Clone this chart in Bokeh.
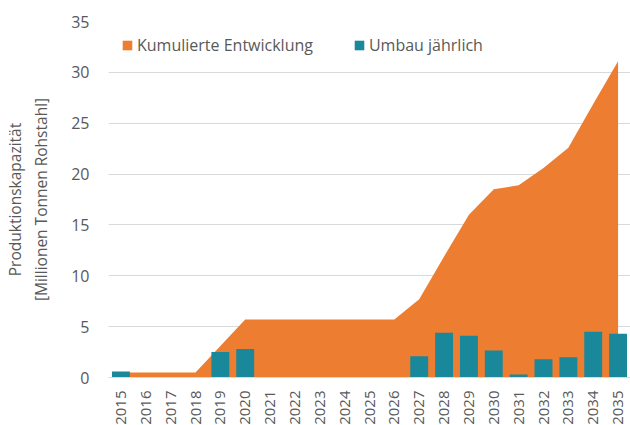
import math
from bokeh.plotting import figure
from bokeh.models import ColumnDataSource, FactorRange, Range1d, Legend, LegendItem, SingleIntervalTicker
from bokeh.embed import file_html
from bokeh.resources import INLINE

years = [str(y) for y in range(2015, 2036)]
kumuliert = [0.5, 0.5, 0.5, 0.5, 3.1, 5.7, 5.7, 5.7, 5.7, 5.7, 5.7, 5.7,
             7.7, 11.9, 16.0, 18.5, 18.9, 20.6, 22.6, 26.9, 31.1]
umbau = [0.6, 0, 0, 0, 2.5, 2.8, 0, 0, 0, 0, 0, 0,
         2.1, 4.4, 4.1, 2.65, 0.3, 1.8, 2.0, 4.5, 4.3]

ORANGE = "#ED7D31"
TEAL = "#18889A"
GREY = "#595959"
FONT = "Open Sans"

src = ColumnDataSource(dict(x=years, cum=kumuliert, umbau=umbau, zero=[0] * len(years)))

p = figure(x_range=FactorRange(*years, range_padding=0), y_range=Range1d(0, 35),
           width=630, height=425, output_backend="svg", toolbar_location=None,
           min_border_left=108, min_border_right=0, min_border_top=21, min_border_bottom=48)
p.frame_width = 522
p.frame_height = 356
p.outline_line_color = None
p.background_fill_color = "white"

a = p.varea(x="x", y1="zero", y2="cum", source=src, fill_color=ORANGE)
b = p.vbar(x="x", top="umbau", width=0.72, source=src, fill_color=TEAL, line_color=None)

p.xgrid.grid_line_color = None
p.ygrid.grid_line_color = "#D9D9D9"
p.ygrid.grid_line_width = 1

p.yaxis.ticker = SingleIntervalTicker(interval=5)
for ax in (p.xaxis[0], p.yaxis[0]):
    ax.major_tick_line_color = None
    ax.minor_tick_line_color = None
    ax.major_label_text_color = GREY
    ax.major_label_text_font = FONT
    ax.axis_label_text_font = FONT
    ax.axis_label_text_color = GREY
    ax.axis_label_text_font_style = "normal"
    ax.axis_label_text_font_size = "15.5px"

p.yaxis.major_label_text_font_size = "16px"
p.xaxis.major_label_text_font_size = "15px"

p.yaxis.axis_line_color = None
p.yaxis.major_label_standoff = 13
p.yaxis.axis_label = "Produktionskapazität\n[Millionen Tonnen Rohstahl]"
p.yaxis.axis_label_standoff = 16

p.xaxis.axis_line_color = "#D9D9D9"
p.xaxis.major_label_orientation = math.pi / 2
p.xaxis.major_label_standoff = 7
p.xaxis.axis_label_standoff = 0

legend = Legend(items=[LegendItem(label="Kumulierte Entwicklung", renderers=[a]),
                       LegendItem(label="Umbau jährlich", renderers=[b])],
                orientation="horizontal", location="top_left", margin=13, padding=0,
                spacing=40, label_standoff=4, glyph_width=12, glyph_height=12,
                label_height=15, label_text_font=FONT, label_text_font_size="16px",
                label_text_color=GREY, border_line_color=None, background_fill_alpha=0)
p.add_layout(legend)

open("out.html", "w").write(file_html(p, INLINE))
